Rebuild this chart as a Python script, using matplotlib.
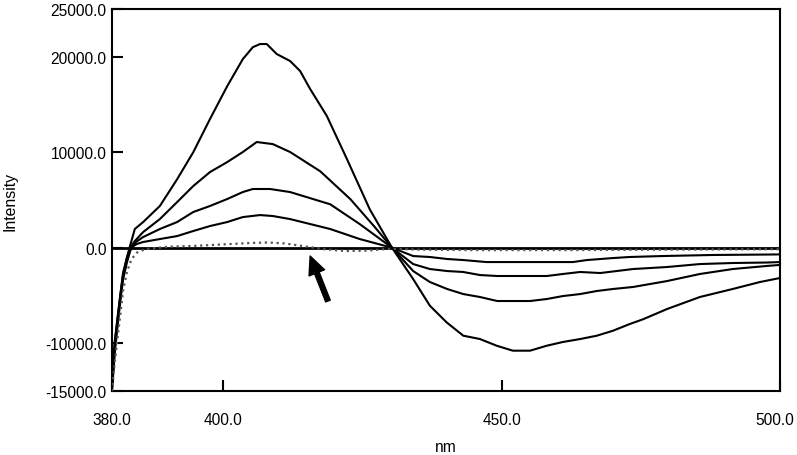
import numpy as np
import matplotlib
matplotlib.use("Agg")
import matplotlib.pyplot as plt
import matplotlib.transforms as mtransforms
from matplotlib.ticker import FormatStrFormatter

plt.rcParams['font.family'] = ['Liberation Sans', 'DejaVu Sans']

# ─────────────────────────────
# DATA
# ─────────────────────────────
x_ticks = [380.0, 400.0, 450.0, 500.0]
y_ticks = [-15000.0, -10000.0, 0.0, 10000.0, 20000.0, 25000.0]

x1 = [380.0, 380.5, 381.0, 381.5, 382.0, 382.7, 383.3, 384.1, 385.6, 388.6, 391.7, 394.6,
      397.6, 400.7, 403.5, 405.3, 406.6, 407.8, 409.6, 412.0, 413.8, 415.6, 418.6, 422.2,
      426.3, 430.3, 434.1, 437.1, 440.1, 443.1, 446.1, 449.1, 452.0, 455.1, 458.1, 461.0,
      464.1, 467.1, 470.0, 473.0, 475.4, 479.7, 485.6, 491.5, 496.4, 500.0]
y1 = [-14500, -10000, -7500, -5000, -2800, -1000, 300, 1960, 2690, 4370, 7170, 10000,
      13470, 16920, 19750, 21000, 21330, 21330, 20280, 19550, 18500, 16620, 13790, 9290,
      4030, 0, -3280, -6070, -7810, -9210, -9560, -10260, -10780, -10780, -10260, -9870,
      -9560, -9210, -8690, -7990, -7490, -6420, -5160, -4320, -3590, -3170]

x2 = [380.0, 380.5, 381.0, 381.5, 382.0, 382.7, 383.3, 384.1, 385.6, 388.6, 391.7, 394.6,
      397.6, 400.7, 403.5, 406.0, 408.9, 412.0, 417.4, 422.8, 427.2, 430.3, 434.1, 437.1,
      440.2, 443.1, 446.1, 449.2, 452.0, 455.1, 458.1, 461.0, 464.1, 467.1, 470.0, 473.6,
      479.7, 485.6, 491.5, 497.6, 500.0]
y2 = [-14800, -10500, -7800, -5200, -3000, -1200, 0, 700, 1640, 3000, 4780, 6460,
      7920, 8970, 10020, 11070, 10850, 10020, 8010, 5100, 2170, 0, -2440, -3590,
      -4320, -4850, -5160, -5580, -5580, -5580, -5370, -5060, -4850, -4530, -4320, -4110,
      -3490, -2750, -2230, -1910, -1800]

x3 = [380.0, 380.5, 381.0, 381.5, 382.0, 382.7, 383.3, 384.3, 385.6, 388.6, 391.7, 394.6,
      397.6, 400.7, 403.5, 405.3, 408.4, 412.0, 419.2, 424.5, 430.3, 434.1, 437.1, 440.2,
      443.1, 446.1, 449.2, 455.1, 458.1, 461.0, 464.1, 467.7, 473.6, 479.7, 485.6, 491.5,
      497.6, 500.0]
y3 = [-15000, -11000, -8200, -5600, -3300, -1500, -300, 600, 1120, 1960, 2690, 3740,
      4370, 5100, 5830, 6150, 6150, 5830, 4550, 2480, 0, -1710, -2230, -2440,
      -2540, -2860, -2960, -2960, -2960, -2750, -2540, -2650, -2230, -2020, -1710, -1600,
      -1550, -1500]

x4 = [380.0, 380.5, 381.0, 381.5, 382.0, 382.7, 383.3, 384.5, 385.6, 388.6, 391.7, 394.6,
      397.6, 400.7, 403.5, 406.6, 408.9, 412.0, 419.2, 424.5, 430.3, 434.1, 437.1, 440.2,
      443.1, 447.3, 452.0, 458.1, 462.8, 465.3, 470.0, 473.0, 478.9, 487.9, 496.4, 500.0]
y4 = [-14200, -9800, -7300, -4900, -2600, -1000, 0, 400, 600, 910, 1220, 1750,
      2270, 2690, 3210, 3420, 3320, 3000, 1960, 910, 0, -870, -970, -1180,
      -1290, -1500, -1500, -1500, -1500, -1290, -1080, -970, -870, -760, -720, -700]

# nearly flat trace the arrow points at
x5 = [380.0, 380.5, 381.0, 381.5, 382.0, 382.7, 383.5, 384.5, 386.0, 390.0, 395.0, 400.0,
      405.0, 408.0, 411.0, 414.0, 418.0, 422.0, 426.0, 430.0, 435.0, 445.0, 460.0, 480.0,
      500.0]
y5 = [-15000, -12000, -9500, -7000, -4500, -2500, -1200, -500, -150, 100, 200, 350,
      500, 550, 450, 200, -150, -350, -300, -100, -200, -250, -250, -200, -150]

# arrow (tail -> head), in data units
arrow_tail = (418.8, -5580)
arrow_head = (415.6, -870)


# ─────────────────────────────
# PLOT
# ─────────────────────────────
fig = plt.figure(figsize=(7.97, 4.56), dpi=100)
ax = fig.add_axes([0.1405, 0.1404, 0.8382, 0.8377])

ax.axhline(0, color='black', linewidth=2.0, zorder=2)
for xs, ys in [(x1, y1), (x2, y2), (x3, y3), (x4, y4)]:
    ax.plot(xs, ys, color='black', linewidth=1.5, zorder=3)
ax.plot(x5, y5, color='#555555', linewidth=1.6, linestyle=':', zorder=3)

ax.annotate('', xy=arrow_head, xytext=arrow_tail,
            arrowprops=dict(facecolor='black', edgecolor='black',
                            width=3.5, headwidth=12, headlength=13, shrink=0))

ax.set_xlim(380, 500)
ax.set_ylim(-15000, 25000)
ax.set_xticks(x_ticks)
ax.set_yticks(y_ticks)
ax.xaxis.set_major_formatter(FormatStrFormatter('%.1f'))
ax.yaxis.set_major_formatter(FormatStrFormatter('%.1f'))

ax.tick_params(axis='both', direction='in', length=8, width=1.5,
               labelsize=11.2, colors='black')
ax.tick_params(axis='x', pad=15)
ax.tick_params(axis='y', pad=4)
for s in ax.spines.values():
    s.set_linewidth(1.5)

# the last x label sits tight against the right edge -> nudge it in a bit
shift = mtransforms.ScaledTranslation(-4 / 72, 0, fig.dpi_scale_trans)
last = ax.get_xticklabels()[-1]
last.set_transform(last.get_transform() + shift)

ax.set_xlabel('nm', fontsize=11.2, labelpad=9)
ax.set_ylabel('Intensity', fontsize=11.4, labelpad=20)

plt.savefig('out.png', dpi=100)
plt.close()
